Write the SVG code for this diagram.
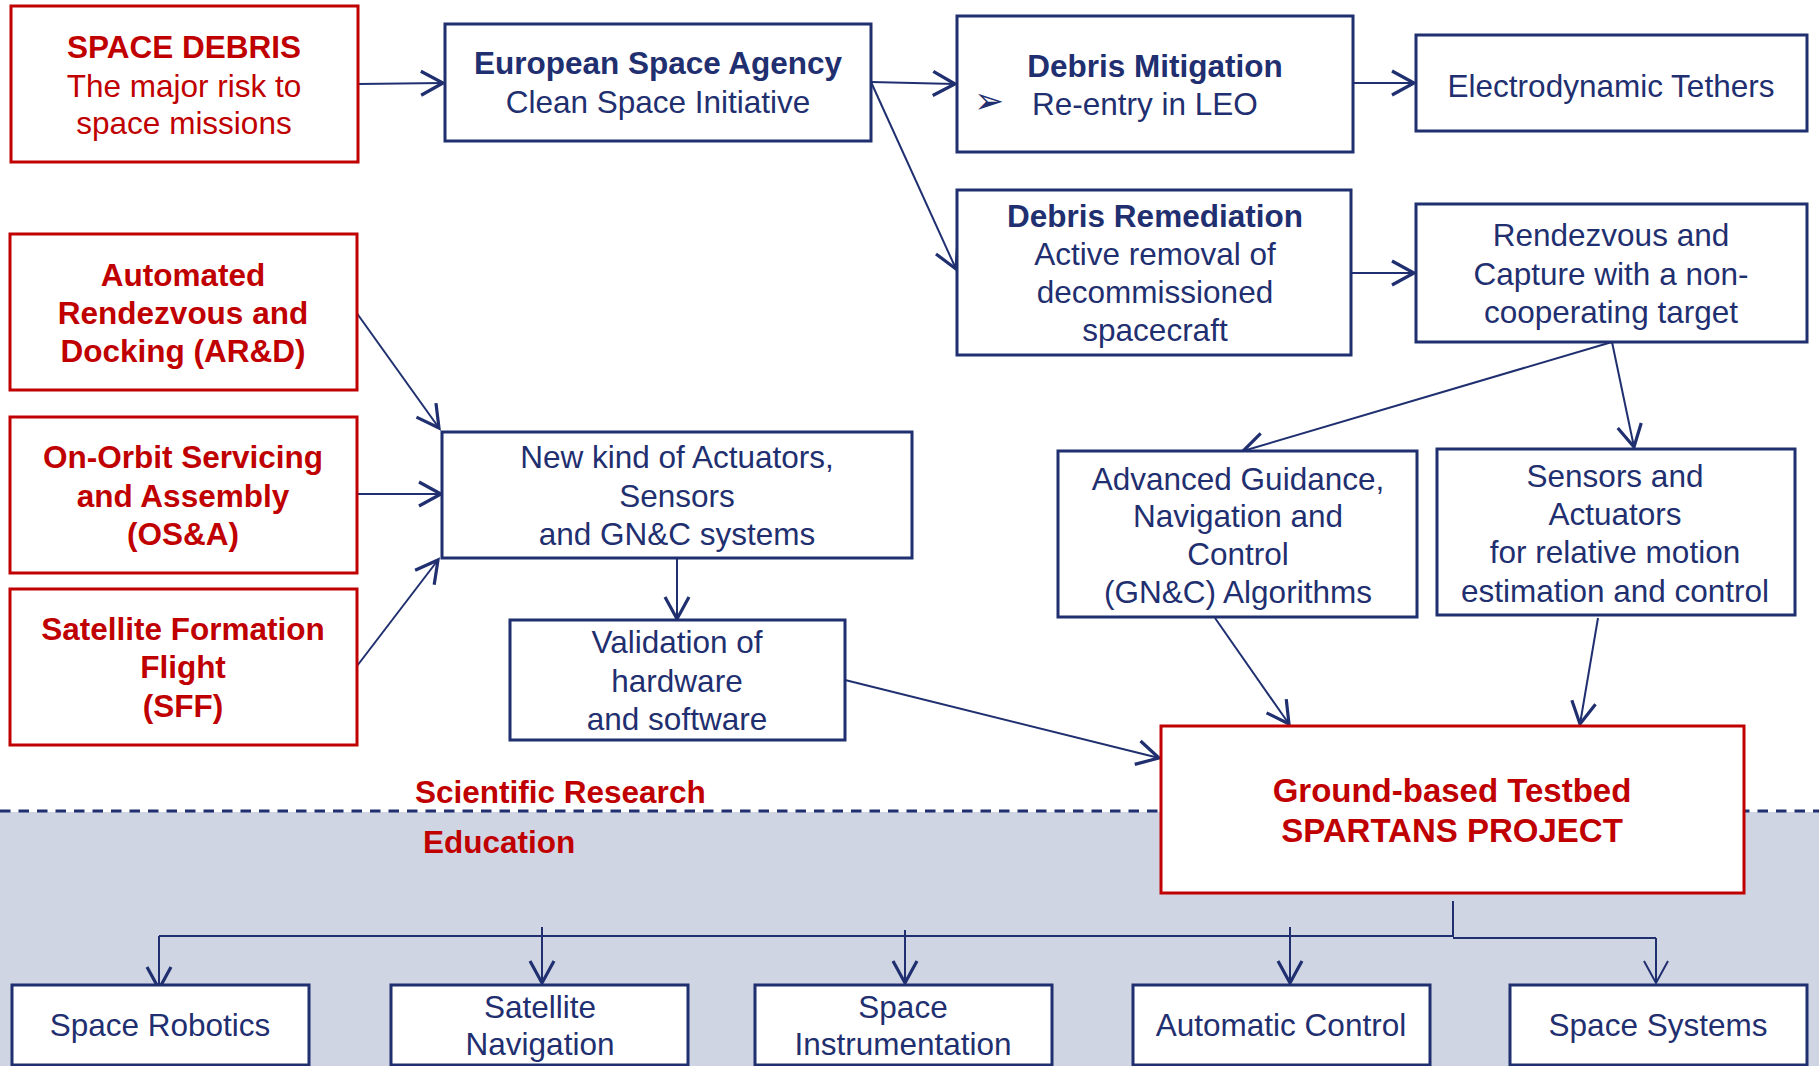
<svg xmlns="http://www.w3.org/2000/svg" width="1819" height="1066" viewBox="0 0 1819 1066">
<style>
text{font-family:"Liberation Sans",Arial,sans-serif;font-size:31.5px;text-anchor:middle}
.n{fill:#1F2F6F}
.r{fill:#C00000}
.b{font-weight:bold}
.bx{fill:#fff;stroke:#1F2F6F;stroke-width:3}
.rb{fill:#fff;stroke:#C00000;stroke-width:3}
.ln{fill:none;stroke:#1F2F6F;stroke-width:2}
</style>
<defs>
<marker id="ah" markerUnits="userSpaceOnUse" markerWidth="30" markerHeight="30" orient="auto" style="overflow:visible">
<path d="M-22,-12 L0,0 L-22,12" fill="none" stroke="#1F2F6F" stroke-width="3.2"/>
</marker>
<marker id="aht" markerUnits="userSpaceOnUse" markerWidth="30" markerHeight="30" orient="auto" style="overflow:visible">
<path d="M-22,-12 L0,0 L-22,12" fill="none" stroke="#1F2F6F" stroke-width="2"/>
</marker>
</defs>
<rect x="0" y="0" width="1819" height="1066" fill="#fff"/>
<rect x="0" y="812" width="1819" height="254" fill="#D0D5E3"/>
<line x1="0" y1="811" x2="1819" y2="811" stroke="#1F2F6F" stroke-width="3" stroke-dasharray="10.5 8"/>
<text class="r b" x="415" y="803" style="text-anchor:start">Scientific Research</text>
<text class="r b" x="423" y="853" style="text-anchor:start">Education</text>

<g id="connectors">
<line class="ln" x1="358" y1="84" x2="443" y2="83" marker-end="url(#ah)"/>
<line class="ln" x1="871" y1="82" x2="955" y2="84" marker-end="url(#ah)"/>
<line class="ln" x1="871" y1="82" x2="956" y2="269" marker-end="url(#ah)"/>
<line class="ln" x1="1353" y1="83" x2="1414" y2="83" marker-end="url(#ah)"/>
<line class="ln" x1="1351" y1="273" x2="1414" y2="273" marker-end="url(#ah)"/>
<line class="ln" x1="1612" y1="342" x2="1243" y2="451" marker-end="url(#ah)"/>
<line class="ln" x1="1612" y1="342" x2="1634" y2="447" marker-end="url(#ah)"/>
<line class="ln" x1="356" y1="312" x2="439" y2="428" marker-end="url(#ah)"/>
<line class="ln" x1="357" y1="494" x2="441" y2="494" marker-end="url(#ah)"/>
<line class="ln" x1="357" y1="666" x2="438" y2="560" marker-end="url(#ah)"/>
<line class="ln" x1="677" y1="558" x2="677" y2="619" marker-end="url(#ah)"/>
<line class="ln" x1="845" y1="680" x2="1159" y2="758" marker-end="url(#ah)"/>
<line class="ln" x1="1215" y1="618" x2="1289" y2="724" marker-end="url(#ah)"/>
<line class="ln" x1="1598" y1="618" x2="1580" y2="724" marker-end="url(#ah)"/>
<polyline class="ln" points="1453,901 1453,936 159,936" stroke-width="3"/>
<polyline class="ln" points="1453,938 1656,938" stroke-width="3"/>
<line class="ln" x1="159" y1="936" x2="159" y2="989" marker-end="url(#ah)"/>
<line class="ln" x1="542" y1="927" x2="542" y2="983" marker-end="url(#ah)"/>
<line class="ln" x1="905" y1="930" x2="905" y2="983" marker-end="url(#ah)"/>
<line class="ln" x1="1290" y1="927" x2="1290" y2="983" marker-end="url(#ah)"/>
<line class="ln" x1="1656" y1="938" x2="1656" y2="983" marker-end="url(#aht)"/>
</g>

<g id="space-debris">
<rect class="rb" x="11" y="6" width="347" height="156"/>
<text class="r b" x="184" y="58">SPACE DEBRIS</text>
<text class="r" x="184" y="97">The major risk to</text>
<text class="r" x="184" y="134">space missions</text>
</g>
<g id="esa">
<rect class="bx" x="445" y="24" width="426" height="117"/>
<text class="n b" x="658" y="74">European Space Agency</text>
<text class="n" x="658" y="113">Clean Space Initiative</text>
</g>
<g id="debris-mitigation">
<rect class="bx" x="957" y="16" width="396" height="136"/>
<text class="n b" x="1155" y="77">Debris Mitigation</text>
<text class="n" x="989" y="113" style="font-family:'DejaVu Sans',sans-serif;font-size:36px">➢</text>
<text class="n" x="1032" y="115" style="text-anchor:start">Re-entry in LEO</text>
</g>
<g id="electrodynamic-tethers">
<rect class="bx" x="1416" y="35" width="391" height="96"/>
<text class="n" x="1611" y="97">Electrodynamic Tethers</text>
</g>
<g id="debris-remediation">
<rect class="bx" x="957" y="190" width="394" height="165"/>
<text class="n b" x="1155" y="227">Debris Remediation</text>
<text class="n" x="1155" y="265">Active removal of</text>
<text class="n" x="1155" y="303">decommissioned</text>
<text class="n" x="1155" y="341">spacecraft</text>
</g>
<g id="rendezvous-capture">
<rect class="bx" x="1416" y="204" width="391" height="138"/>
<text class="n" x="1611" y="246">Rendezvous and</text>
<text class="n" x="1611" y="285">Capture with a non-</text>
<text class="n" x="1611" y="323">cooperating target</text>
</g>
<g id="ard">
<rect class="rb" x="10" y="234" width="347" height="156"/>
<text class="r b" x="183" y="286">Automated</text>
<text class="r b" x="183" y="324">Rendezvous and</text>
<text class="r b" x="183" y="362">Docking (AR&amp;D)</text>
</g>
<g id="osa">
<rect class="rb" x="10" y="417" width="347" height="156"/>
<text class="r b" x="183" y="468">On-Orbit Servicing</text>
<text class="r b" x="183" y="507">and Assembly</text>
<text class="r b" x="183" y="545">(OS&amp;A)</text>
</g>
<g id="sff">
<rect class="rb" x="10" y="589" width="347" height="156"/>
<text class="r b" x="183" y="640">Satellite Formation</text>
<text class="r b" x="183" y="678">Flight</text>
<text class="r b" x="183" y="717">(SFF)</text>
</g>
<g id="new-kind">
<rect class="bx" x="442" y="432" width="470" height="126"/>
<text class="n" x="677" y="468">New kind of Actuators,</text>
<text class="n" x="677" y="507">Sensors</text>
<text class="n" x="677" y="545">and GN&amp;C systems</text>
</g>
<g id="validation">
<rect class="bx" x="510" y="620" width="335" height="120"/>
<text class="n" x="677" y="653">Validation of</text>
<text class="n" x="677" y="692">hardware</text>
<text class="n" x="677" y="730">and software</text>
</g>
<g id="advanced-gnc">
<rect class="bx" x="1058" y="451" width="359" height="166"/>
<text class="n" x="1238" y="490">Advanced Guidance,</text>
<text class="n" x="1238" y="527">Navigation and</text>
<text class="n" x="1238" y="565">Control</text>
<text class="n" x="1238" y="603">(GN&amp;C) Algorithms</text>
</g>
<g id="sensors-actuators">
<rect class="bx" x="1437" y="449" width="358" height="166"/>
<text class="n" x="1615" y="487">Sensors and</text>
<text class="n" x="1615" y="525">Actuators</text>
<text class="n" x="1615" y="563">for relative motion</text>
<text class="n" x="1615" y="602">estimation and control</text>
</g>
<g id="ground-testbed">
<rect class="rb" x="1161" y="726" width="583" height="167"/>
<text class="r b" x="1452" y="802" style="font-size:33px">Ground-based Testbed</text>
<text class="r b" x="1452" y="842" style="font-size:33px">SPARTANS PROJECT</text>
</g>
<g id="space-robotics">
<rect class="bx" x="12" y="985" width="297" height="80"/>
<text class="n" x="160" y="1036">Space Robotics</text>
</g>
<g id="satellite-navigation">
<rect class="bx" x="391" y="985" width="297" height="80"/>
<text class="n" x="540" y="1018">Satellite</text>
<text class="n" x="540" y="1055">Navigation</text>
</g>
<g id="space-instrumentation">
<rect class="bx" x="755" y="985" width="297" height="80"/>
<text class="n" x="903" y="1018">Space</text>
<text class="n" x="903" y="1055">Instrumentation</text>
</g>
<g id="automatic-control">
<rect class="bx" x="1133" y="985" width="297" height="80"/>
<text class="n" x="1281" y="1036">Automatic Control</text>
</g>
<g id="space-systems">
<rect class="bx" x="1510" y="985" width="297" height="80"/>
<text class="n" x="1658" y="1036">Space Systems</text>
</g>
</svg>
